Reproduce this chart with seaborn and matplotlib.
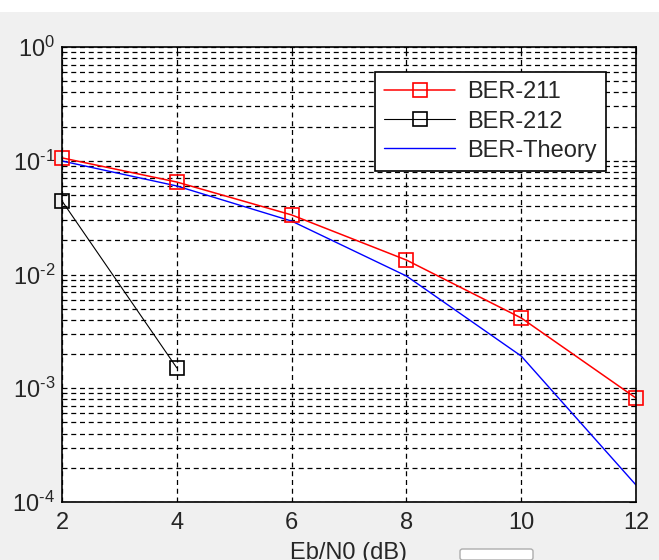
import numpy as np
import pandas as pd
import matplotlib
matplotlib.use("Agg")
import matplotlib.pyplot as plt
import matplotlib.patches as mpatches
import seaborn as sns

# values
snr_db = [2, 4, 6, 8, 10, 12]
ber_211 = [0.106, 0.065, 0.0334, 0.0134, 0.00415, 0.00082]
snr_212 = [2, 4]
ber_212 = [0.0443, 0.00151]
ber_theory = [0.0995, 0.060, 0.0295, 0.0097, 0.00192, 0.000141]
ytick_labels = [r'$10^{\text{-4}}$', r'$10^{\text{-3}}$', r'$10^{\text{-2}}$',
                r'$10^{\text{-1}}$', r'$10^{0}$']

sns.set_style("white")
plt.rcParams['font.family'] = ['Liberation Sans', 'DejaVu Sans']
plt.rcParams['mathtext.fontset'] = 'custom'
plt.rcParams['mathtext.rm'] = 'Liberation Sans'
plt.rcParams['mathtext.it'] = 'Liberation Sans'

fig = plt.figure(figsize=(6.59, 5.6), dpi=100, facecolor='#f0f0f0')
# white strip across the top of the window
fig.patches.append(mpatches.Rectangle((0, 548 / 560), 1, 12 / 560, transform=fig.transFigure,
                                      facecolor='white', edgecolor='none', zorder=0))
# small button at the bottom edge
fig.patches.append(mpatches.FancyBboxPatch((460 / 659, 0.0), 73 / 659, 11 / 560,
                                           boxstyle="round,pad=0,rounding_size=0.004",
                                           transform=fig.transFigure, facecolor='white',
                                           edgecolor='#adadad', lw=1, zorder=0))

ax = fig.add_axes([62 / 659, 58 / 560, 574 / 659, 455 / 560])
ax.set_facecolor('white')

sns.lineplot(x=snr_db, y=ber_211, ax=ax, color='red', marker='s', markersize=10,
             markerfacecolor='none', markeredgecolor='red', markeredgewidth=1.2,
             linewidth=1.1, label='BER-211', clip_on=False, zorder=5)
sns.lineplot(x=snr_212, y=ber_212, ax=ax, color='black', marker='s', markersize=10,
             markerfacecolor='none', markeredgecolor='black', markeredgewidth=1.2,
             linewidth=0.8, label='BER-212', clip_on=False, zorder=5)
sns.lineplot(x=snr_db, y=ber_theory, ax=ax, color='blue', linewidth=1, label='BER-Theory',
             zorder=4)

ax.set_yscale('log')
ax.set_xlim(2, 12)
ax.set_ylim(1e-4, 1)
ax.set_xticks([2, 4, 6, 8, 10, 12])
ax.set_yticks([1e-4, 1e-3, 1e-2, 1e-1, 1])
ax.set_yticklabels(ytick_labels)
ax.yaxis.set_minor_locator(matplotlib.ticker.LogLocator(base=10, subs=np.arange(2, 10)))
ax.yaxis.set_minor_formatter(matplotlib.ticker.NullFormatter())

ax.tick_params(axis='both', which='both', direction='in', labelsize=17, color='black',
               top=True, right=True)
ax.tick_params(axis='both', which='major', length=5)
ax.tick_params(axis='y', which='minor', length=3)
ax.tick_params(axis='x', pad=7)
ax.tick_params(axis='y', pad=5)

ax.grid(True, which='major', axis='x', color='black', linestyle=(0, (4, 3)), linewidth=0.9)
ax.grid(True, which='both', axis='y', color='black', linestyle=(0, (4, 3)), linewidth=0.9)
ax.set_axisbelow(True)
for s in ax.spines.values():
    s.set_color('black')
    s.set_linewidth(1.2)
    s.set_zorder(6)

ax.set_xlabel('Eb/N0 (dB)', fontsize=17, labelpad=6)

leg = ax.legend(loc='upper right', bbox_to_anchor=(0.948, 0.945), fontsize=17,
                fancybox=False, framealpha=1, edgecolor='black', handlelength=3,
                borderpad=0.4, labelspacing=0.3, handletextpad=0.5, borderaxespad=0)
leg.get_frame().set_linewidth(1.2)
leg.set_zorder(10)

fig.savefig('out.png', dpi=100, facecolor=fig.get_facecolor())
